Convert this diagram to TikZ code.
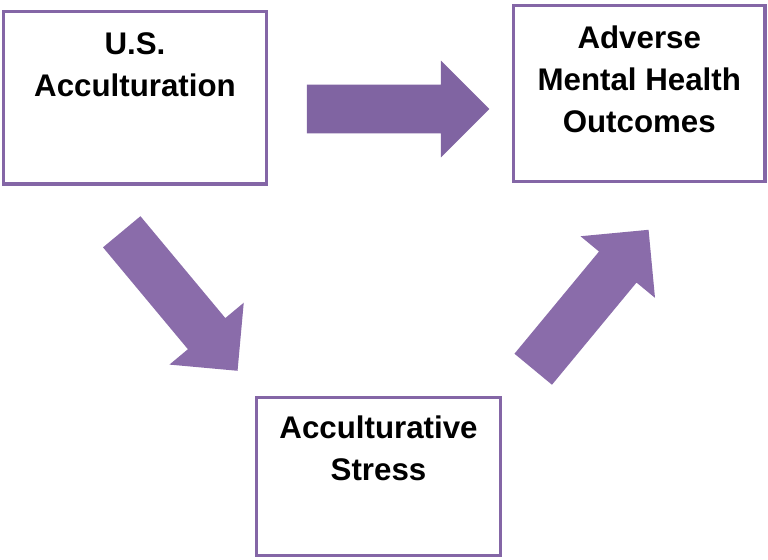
\documentclass[tikz,border=0pt]{standalone}
\usepackage{fontspec}
\setmainfont{Liberation Sans}
\usetikzlibrary{positioning,shapes.arrows}

\definecolor{boxline}{HTML}{8466A6}
\definecolor{arrdark}{HTML}{8064A2}
\definecolor{arrlight}{HTML}{8A6CAA}

\begin{document}
\begin{tikzpicture}[
    x=0.02cm, y=0.02cm,
    factorbox/.style={rectangle, draw=boxline, line width=2pt, fill=white,
                      outer sep=0pt, inner sep=0pt},
    boxtext/.style={inner sep=0pt, align=center,
                    font=\fontsize{17.8}{23.9}\selectfont\bfseries},
    fatarr/.style={single arrow, draw=none, fill=#1, inner sep=0pt,
                   inner ysep=0.48cm, minimum height=3.62cm,
                   single arrow head extend=0.48cm, anchor=tail},
    fatarr/.default=arrlight
]
\useasboundingbox (0,0) rectangle (768,559);

%% Boxes %%
\node[factorbox, minimum width=5.26cm, minimum height=3.45cm] (usa)    at (135, 461.25) {};
\node[factorbox, minimum width=5.03cm, minimum height=3.52cm] (health) at (639.25, 465.5) {};
\node[factorbox, minimum width=4.88cm, minimum height=3.16cm] (stress) at (378.5, 82.5) {};

% labels hang from the top edge of each box
\node[boxtext, below=0.42cm of usa.north]    (usatxt)    {U.S.\\Acculturation};
\node[boxtext, below=0.40cm of health.north] (healthtxt) {Adverse\\Mental Health\\Outcomes};
\node[boxtext, below=0.36cm of stress.north] (stresstxt) {Acculturative\\Stress};

%% Block arrows %%
\node[fatarr=arrdark, minimum height=3.65cm] (arrdirect) at (306.5, 450) {};
\node[fatarr, rotate=-50.2] (arrdown) at (121.5, 327.5) {};
\node[fatarr, rotate=50.4]  (arrup)   at (533, 189.5) {};

\end{tikzpicture}
\end{document}
